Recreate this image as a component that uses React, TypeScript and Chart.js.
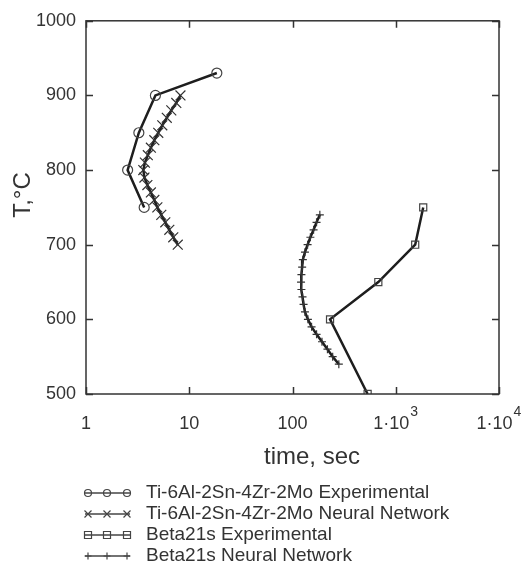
import React, { useEffect, useRef } from "react";
import { Chart, registerables } from "chart.js";

Chart.register(...registerables);

// ---- Data ----
const tiExpTime = [18.5, 4.7, 3.25, 2.53, 3.66];
const tiExpTemp = [930, 900, 850, 800, 750];

const tiNNTemp = [900, 890, 880, 870, 860, 850, 840, 830, 820, 810, 800, 790, 780, 770, 760, 750, 740, 730, 720, 710, 700];
const tiNNTime = [8.22, 7.49, 6.7, 6.06, 5.48, 5.01, 4.59, 4.25, 3.97, 3.72, 3.59, 3.68, 3.93, 4.25, 4.59, 4.91, 5.36, 5.86, 6.41, 7.0, 7.74];

const betaExpTime = [1845, 1543, 678, 231, 534];
const betaExpTemp = [750, 700, 650, 600, 500];

const betaNNTemp = [740, 730, 720, 710, 700, 690, 680, 670, 660, 650, 640, 630, 620, 610, 600, 590, 580, 570, 560, 550, 540];
const betaNNTime = [184, 171, 160, 149, 140, 132, 126, 124, 122, 121, 122, 125, 128, 132, 141, 153, 171, 193, 218, 245, 281];

const xTickValues = [1, 10, 100, 1000, 10000];
const xTickBase = ["1", "10", "100", "1·10", "1·10"];
const xTickSup = ["", "", "", "3", "4"];
const yTickValues = [500, 600, 700, 800, 900, 1000];

const seriesNames = [
  "Ti-6Al-2Sn-4Zr-2Mo Experimental",
  "Ti-6Al-2Sn-4Zr-2Mo Neural Network",
  "Beta21s Experimental",
  "Beta21s Neural Network",
];
const xTitle = "time, sec";
const yTitle = "T,°C";

const FONT = '"Liberation Sans", Arial, Helvetica, sans-serif';
const LINE = "#1e1e1e";
const TEXT = "#333333";

function pts(xs: number[], ys: number[]) {
  return xs.map((x, i) => ({ x, y: ys[i] }));
}

function drawMarker(ctx: CanvasRenderingContext2D, kind: number, x: number, y: number, r: number) {
  ctx.beginPath();
  if (kind === 0) {
    ctx.arc(x, y, r, 0, Math.PI * 2);
  } else if (kind === 1) {
    ctx.moveTo(x - r, y - r);
    ctx.lineTo(x + r, y + r);
    ctx.moveTo(x - r, y + r);
    ctx.lineTo(x + r, y - r);
  } else if (kind === 2) {
    ctx.rect(x - r, y - r, 2 * r, 2 * r);
  } else {
    ctx.moveTo(x, y - r);
    ctx.lineTo(x, y + r);
    ctx.moveTo(x - r, y);
    ctx.lineTo(x + r, y);
  }
  ctx.stroke();
}

const decor = {
  id: "decor",
  afterDraw(chart: any) {
    const { ctx, chartArea: a, scales } = chart;
    const xs = scales.x;
    const ys = scales.y;
    ctx.save();
    ctx.strokeStyle = "#333";
    ctx.lineWidth = 1.5;
    ctx.strokeRect(a.left, a.top, a.right - a.left, a.bottom - a.top);
    const L = 7;
    ctx.beginPath();
    xTickValues.forEach((v) => {
      const px = Math.round(xs.getPixelForValue(v)) + 0.5;
      ctx.moveTo(px, a.bottom);
      ctx.lineTo(px, a.bottom - L);
      ctx.moveTo(px, a.top);
      ctx.lineTo(px, a.top + L);
    });
    yTickValues.forEach((v) => {
      const py = Math.round(ys.getPixelForValue(v)) + 0.5;
      ctx.moveTo(a.left, py);
      ctx.lineTo(a.left + L, py);
      ctx.moveTo(a.right, py);
      ctx.lineTo(a.right - L, py);
    });
    ctx.stroke();

    // x tick labels with superscripts
    ctx.fillStyle = TEXT;
    ctx.textBaseline = "alphabetic";
    ctx.textAlign = "left";
    xTickValues.forEach((v, i) => {
      const px = xs.getPixelForValue(v);
      ctx.font = `18px ${FONT}`;
      const wb = ctx.measureText(xTickBase[i]).width;
      ctx.font = `14px ${FONT}`;
      const ws = xTickSup[i] ? ctx.measureText(xTickSup[i]).width + 1 : 0;
      const x0 = px - (wb + ws) / 2;
      ctx.font = `18px ${FONT}`;
      ctx.fillText(xTickBase[i], x0, 429);
      if (xTickSup[i]) {
        ctx.font = `14px ${FONT}`;
        ctx.fillText(xTickSup[i], x0 + wb + 1, 416);
      }
    });

    // axis titles
    ctx.fillStyle = TEXT;
    ctx.font = `24px ${FONT}`;
    ctx.textAlign = "center";
    ctx.textBaseline = "alphabetic";
    ctx.fillText(xTitle, 312, 464);
    ctx.save();
    ctx.translate(23, 195);
    ctx.rotate(-Math.PI / 2);
    ctx.textBaseline = "middle";
    ctx.fillText(yTitle, 0, 0);
    ctx.restore();

    // legend
    ctx.font = `19px ${FONT}`;
    ctx.textAlign = "left";
    ctx.textBaseline = "middle";
    seriesNames.forEach((name, i) => {
      const y = 493 + i * 21;
      ctx.strokeStyle = "#444";
      ctx.lineWidth = 1.5;
      ctx.beginPath();
      ctx.moveTo(85, y);
      ctx.lineTo(130, y);
      ctx.stroke();
      ctx.lineWidth = 1.2;
      [88, 107, 127].forEach((mx) => drawMarker(ctx, i, mx, y, 3.5));
      ctx.fillStyle = TEXT;
      ctx.fillText(name, 146, y);
    });
    ctx.restore();
  },
};

export default function App() {
  const ref = useRef<HTMLCanvasElement>(null);

  useEffect(() => {
    if (!ref.current) return;
    const chart = new Chart(ref.current, {
      type: "scatter",
      data: {
        datasets: [
          {
            label: seriesNames[0],
            data: pts(tiExpTime, tiExpTemp),
            showLine: true,
            borderColor: LINE,
            borderWidth: 2.5,
            pointStyle: "circle",
            pointRadius: 5,
            pointBorderWidth: 1.2,
            pointBorderColor: "#444",
            pointBackgroundColor: "rgba(255,255,255,0)",
          },
          {
            label: seriesNames[1],
            data: pts(tiNNTime, tiNNTemp),
            showLine: true,
            borderColor: LINE,
            borderWidth: 2.5,
            pointStyle: "crossRot",
            pointRadius: 7,
            pointBorderWidth: 1.2,
            pointBorderColor: "#333",
          },
          {
            label: seriesNames[2],
            data: pts(betaExpTime, betaExpTemp),
            showLine: true,
            borderColor: LINE,
            borderWidth: 2.5,
            pointStyle: "rect",
            pointRadius: 5,
            pointBorderWidth: 1.2,
            pointBorderColor: "#444",
            pointBackgroundColor: "rgba(255,255,255,0)",
          },
          {
            label: seriesNames[3],
            data: pts(betaNNTime, betaNNTemp),
            showLine: true,
            borderColor: LINE,
            borderWidth: 2.5,
            pointStyle: "cross",
            pointRadius: 4,
            pointBorderWidth: 1.2,
            pointBorderColor: "#333",
          },
        ],
      },
      options: {
        animation: false,
        responsive: false,
        devicePixelRatio: 1,
        layout: { padding: { top: 13, right: 30, left: 0, bottom: 0 } },
        scales: {
          x: {
            type: "logarithmic",
            min: 1,
            max: 10000,
            grid: { display: false, drawTicks: false },
            border: { display: false },
            ticks: { display: false },
            afterBuildTicks: (s: any) => {
              s.ticks = xTickValues.map((v) => ({ value: v }));
            },
            afterFit: (s: any) => {
              s.height = 174;
            },
          },
          y: {
            type: "linear",
            min: 500,
            max: 1000,
            grid: { display: false, drawTicks: false },
            border: { display: false },
            ticks: {
              stepSize: 100,
              padding: 10,
              color: TEXT,
              font: { size: 18, family: FONT },
              callback: (v: any) => String(v),
            },
            afterFit: (s: any) => {
              s.width = 86;
            },
          },
        },
        plugins: {
          legend: { display: false },
          tooltip: { enabled: false },
        },
      },
      plugins: [decor],
    } as any);
    return () => chart.destroy();
  }, []);

  return (
    <div style={{ width: 529, height: 568, background: "#fff" }}>
      <style>{"html,body{margin:0;padding:0;overflow:hidden;background:#fff}"}</style>
      <canvas ref={ref} width={529} height={568} style={{ display: "block" }} />
    </div>
  );
}
